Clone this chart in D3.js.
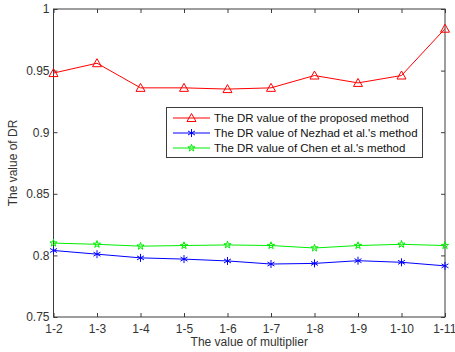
<!DOCTYPE html>
<html>
<head>
<meta charset="utf-8">
<script src="https://cdn.jsdelivr.net/npm/d3@7"></script>
<style>
  body { margin: 0; background: #fff; }
  svg { display: block; font-family: "Liberation Sans", Arial, sans-serif; }
</style>
</head>
<body>
<svg></svg>
<script>
const width = 455;
const height = 352;

const categories = ["1-2", "1-3", "1-4", "1-5", "1-6", "1-7", "1-8", "1-9", "1-10", "1-11"];
const proposed = [0.948, 0.956, 0.936, 0.936, 0.935, 0.936, 0.946, 0.940, 0.946, 0.984];
const nezhad = [0.804, 0.801, 0.798, 0.797, 0.7955, 0.793, 0.7935, 0.7957, 0.7944, 0.7915];
const chen = [0.810, 0.809, 0.8075, 0.808, 0.8085, 0.808, 0.806, 0.808, 0.809, 0.808];
const yTicks = [0.75, 0.8, 0.85, 0.9, 0.95, 1];
const seriesNames = [
  "The DR value of the proposed method",
  "The DR value of Nezhad et al.'s method",
  "The DR value of Chen et al.'s method"
];

const margin = { left: 53.5, right: 10, top: 9, bottom: 35 };

const svg = d3.select('svg')
  .attr('width', width)
  .attr('height', height);

const x = d3.scalePoint()
  .domain(categories)
  .range([margin.left, width - margin.right]);

const y = d3.scaleLinear()
  .domain([0.75, 1])
  .range([height - margin.bottom, margin.top]);

const axisColor = "#3c3c3c";
const textColor = "#333";

// frame
svg.append('rect')
  .attr('x', margin.left)
  .attr('y', margin.top)
  .attr('width', width - margin.right - margin.left)
  .attr('height', height - margin.bottom - margin.top)
  .attr('fill', 'none')
  .attr('stroke', axisColor)
  .attr('stroke-width', 1);

// ticks point inward, on all four sides
const bottomAxis = svg.append('g')
  .attr('transform', `translate(0,${height - margin.bottom})`)
  .call(d3.axisBottom(x).tickSize(-4).tickPadding(7));
const topAxis = svg.append('g')
  .attr('transform', `translate(0,${margin.top})`)
  .call(d3.axisTop(x).tickSize(-4).tickFormat(''));
const leftAxis = svg.append('g')
  .attr('transform', `translate(${margin.left},0)`)
  .call(d3.axisLeft(y).tickValues(yTicks).tickSize(-4).tickPadding(4).tickFormat(d3.format('')));
const rightAxis = svg.append('g')
  .attr('transform', `translate(${width - margin.right},0)`)
  .call(d3.axisRight(y).tickValues(yTicks).tickSize(-4).tickFormat(''));

[bottomAxis, topAxis, leftAxis, rightAxis].forEach(g => {
  g.select('.domain').remove();
  g.selectAll('line').attr('stroke', axisColor);
  g.selectAll('text')
    .attr('fill', textColor)
    .attr('font-size', 12)
    .attr('font-family', '"Liberation Sans", Arial, sans-serif');
});

// keep the last label inside the window
bottomAxis.selectAll('.tick:last-of-type text').attr('text-anchor', 'end').attr('dx', '0.9em');

// axis titles
svg.append('text')
  .attr('x', (margin.left + width - margin.right) / 2)
  .attr('y', 346)
  .attr('text-anchor', 'middle')
  .attr('font-size', 12)
  .attr('fill', textColor)
  .text('The value of multiplier');

svg.append('text')
  .attr('transform', `translate(17,${(margin.top + height - margin.bottom) / 2}) rotate(-90)`)
  .attr('text-anchor', 'middle')
  .attr('font-size', 12)
  .attr('fill', textColor)
  .text('The value of DR');

// markers
function triangle(g, cx, cy, color) {
  g.append('path')
    .attr('d', `M${cx},${cy - 4.5}L${cx + 4.5},${cy + 3.5}L${cx - 4.5},${cy + 3.5}Z`)
    .attr('fill', 'none')
    .attr('stroke', color);
}
function asterisk(g, cx, cy, color) {
  const r = 4;
  const p = [[0, -r], [r * 0.87, -r * 0.5], [r * 0.87, r * 0.5]];
  g.append('path')
    .attr('d', p.map(([a, b]) => `M${cx - a},${cy - b}L${cx + a},${cy + b}`).join(''))
    .attr('stroke', color);
}
function pentagram(g, cx, cy, color) {
  g.append('path')
    .attr('d', d3.symbol(d3.symbolStar, 16)())
    .attr('transform', `translate(${cx},${cy})`)
    .attr('fill', 'none')
    .attr('stroke', color);
}

const series = [
  { values: proposed, color: "#ff0000", marker: triangle },
  { values: nezhad, color: "#0000ff", marker: asterisk },
  { values: chen, color: "#00ee00", marker: pentagram }
];

const line = d3.line()
  .x((d, i) => x(categories[i]))
  .y(d => y(d));

series.forEach(s => {
  svg.append('path')
    .datum(s.values)
    .attr('d', line)
    .attr('fill', 'none')
    .attr('stroke', s.color)
    .attr('stroke-width', 1);
  const g = svg.append('g');
  s.values.forEach((v, i) => s.marker(g, x(categories[i]), y(v), s.color));
});

// legend
const legend = svg.append('g');
legend.append('rect')
  .attr('x', 166.5)
  .attr('y', 107.5)
  .attr('width', 256)
  .attr('height', 50)
  .attr('fill', '#fff')
  .attr('stroke', axisColor);

series.forEach((s, i) => {
  const ly = 118 + i * 15;
  legend.append('line')
    .attr('x1', 173).attr('x2', 210)
    .attr('y1', ly).attr('y2', ly)
    .attr('stroke', s.color);
  s.marker(legend, 191.5, ly, s.color);
  legend.append('text')
    .attr('x', 214)
    .attr('y', ly + 4)
    .attr('font-size', 11.5)
    .attr('fill', '#111')
    .text(seriesNames[i]);
});
</script>
</body>
</html>
